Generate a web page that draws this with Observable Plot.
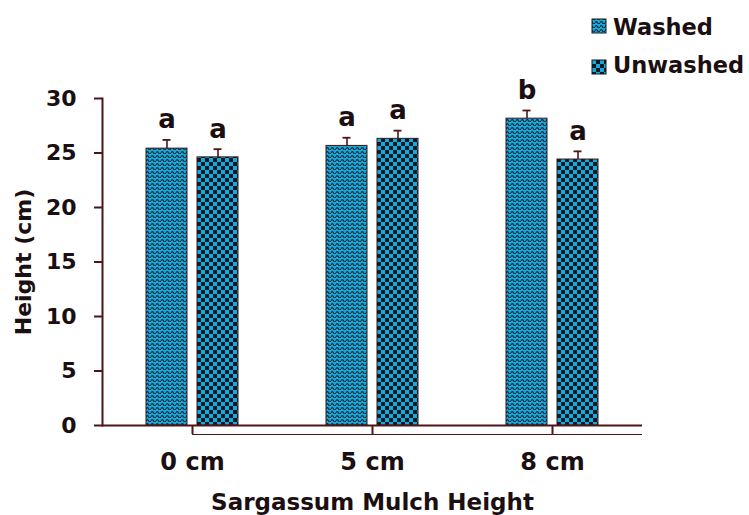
<!DOCTYPE html>
<html>
<head>
<meta charset="utf-8">
<script src="https://cdn.jsdelivr.net/npm/d3@7"></script>
<script src="https://cdn.jsdelivr.net/npm/@observablehq/plot@0.6"></script>
<style>
  html, body { margin: 0; padding: 0; background: #ffffff; }
  #wrap { width: 749px; font-family: "DejaVu Sans", sans-serif; }
  svg text { font-family: "DejaVu Sans", sans-serif; }
</style>
</head>
<body>
<svg width="0" height="0" style="position:absolute">
  <defs>
    <pattern id="wave" patternUnits="userSpaceOnUse" width="5" height="4">
      <rect width="5" height="4" fill="#17a9da"></rect>
      <path d="M0,2.8 Q1.25,0.4 2.5,2.8 T5,2.8" fill="none" stroke="#0d2233" stroke-width="1.1"></path>
    </pattern>
    <pattern id="check" patternUnits="userSpaceOnUse" width="8" height="8">
      <rect width="8" height="8" fill="#17a9da"></rect>
      <rect x="0" y="0" width="4" height="4" fill="#0b1a26"></rect>
      <rect x="4" y="4" width="4" height="4" fill="#0b1a26"></rect>
    </pattern>
  </defs>
</svg>
<div id="wrap">
  <div id="legend"></div>
  <div id="chart"></div>
</div>
<script>
// ---- data ----
const categories = ["0 cm", "5 cm", "8 cm"];
const series = ["Washed", "Unwashed"];
const washed = [25.4, 25.65, 28.15];
const unwashed = [24.6, 26.3, 24.4];
const washedErr = [0.8, 0.75, 0.75];
const unwashedErr = [0.75, 0.75, 0.75];
const washedLetters = ["a", "a", "b"];
const unwashedLetters = ["a", "a", "a"];
const yTicks = [0, 5, 10, 15, 20, 25, 30];
const xTitle = "Sargassum Mulch Height";
const yTitle = "Height (cm)";

const rows = [];
categories.forEach((c, i) => {
  rows.push({mulch: c, series: "Washed", value: washed[i], err: washedErr[i], letter: washedLetters[i]});
  rows.push({mulch: c, series: "Unwashed", value: unwashed[i], err: unwashedErr[i], letter: unwashedLetters[i]});
});

const axisColor = "#4d1518";
const textColor = "#1c0f11";
const patterns = ["url(#wave)", "url(#check)"];

// ---- legend (above the chart) ----
const leg = d3.select("#legend").append("svg")
  .attr("width", 749).attr("height", 82)
  .style("display", "block");
const legRows = [{s: series[0], ry: 19, ty: 35}, {s: series[1], ry: 60, ty: 73}];
legRows.forEach((r, i) => {
  leg.append("rect").attr("x", 592).attr("y", r.ry).attr("width", 14).attr("height", 14)
    .attr("fill", patterns[i]).attr("stroke", "#1a1a22").attr("stroke-width", 1);
  leg.append("text").attr("x", 613).attr("y", r.ty).text(r.s)
    .attr("font-size", 22.5).attr("font-weight", "bold").attr("fill", textColor);
});

// ---- chart ----
const chart = Plot.plot({
  width: 749,
  height: 433,
  marginTop: 16,
  marginBottom: 90,
  marginLeft: 101,
  marginRight: 106,
  style: {fontFamily: "DejaVu Sans", fontWeight: "bold", color: textColor, background: "transparent", overflow: "visible"},
  fx: {domain: categories, padding: 0},
  x: {domain: series, paddingInner: 0.194, paddingOuter: 0.85, axis: null},
  y: {domain: [0, 30]},
  color: {domain: series, range: patterns},
  marks: [
    Plot.barY(rows, {fx: "mulch", x: "series", y: "value", fill: "series", stroke: "#3a1416", strokeWidth: 1}),
    Plot.ruleX(rows, {fx: "mulch", x: "series", y1: "value", y2: d => d.value + d.err, stroke: axisColor, strokeWidth: 1.6}),
    Plot.tickY(rows, {fx: "mulch", x: "series", y: d => d.value + d.err, stroke: axisColor, strokeWidth: 1.8, insetLeft: 16.5, insetRight: 16.5}),
    Plot.text(rows, {fx: "mulch", x: "series", y: d => d.value + d.err, text: "letter", dy: -20, fontSize: 26, fontWeight: "bold", fill: textColor}),
    Plot.ruleY([0], {stroke: axisColor, strokeWidth: 2}),
    Plot.ruleY(categories.slice(0, 1), {fx: d => d, y: () => 0, dy: 9, insetLeft: 90, stroke: axisColor, strokeWidth: 1.2}),
    Plot.ruleY(categories.slice(1), {fx: d => d, y: () => 0, dy: 9, stroke: axisColor, strokeWidth: 1.2}),
    Plot.frame({anchor: "left", facet: "super", stroke: axisColor, strokeWidth: 2}),
    Plot.axisY({ticks: yTicks, tickSize: 8, tickPadding: 18, stroke: axisColor, strokeWidth: 2, fill: textColor, fontSize: 22, fontWeight: "bold",
      label: yTitle, labelAnchor: "center", labelArrow: "none", labelOffset: 87}),
    Plot.axisFx({anchor: "bottom", tickSize: 9, tickPadding: 18, stroke: axisColor, strokeWidth: 2, fill: textColor, fontSize: 24, fontWeight: "bold",
      label: null}),
    Plot.text([xTitle], {facet: "super", frameAnchor: "bottom", text: d => d, dy: 84, lineAnchor: "bottom", fontSize: 23, fontWeight: "bold", fill: textColor})
  ]
});
document.getElementById("chart").appendChild(chart);
</script>
</body>
</html>
